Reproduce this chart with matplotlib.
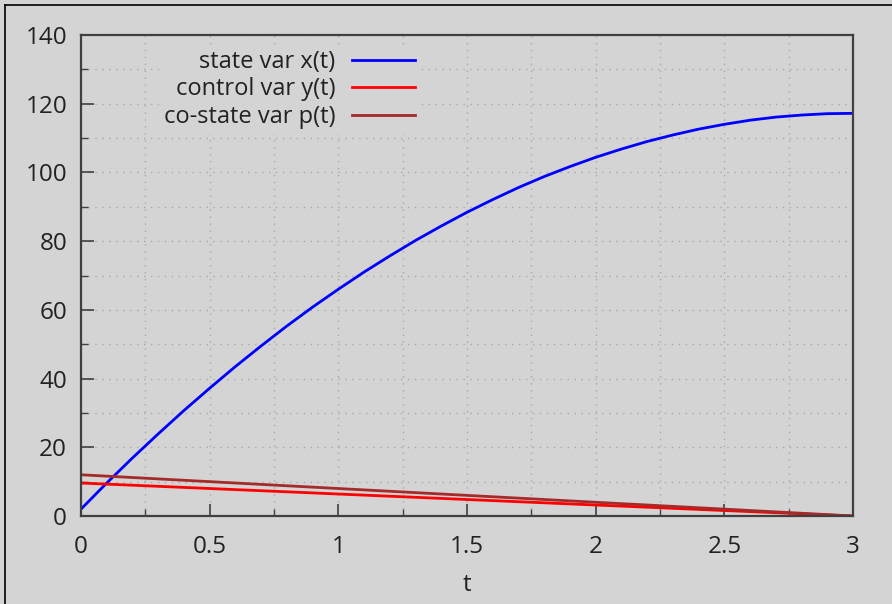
import matplotlib.pyplot as plt
from matplotlib.lines import Line2D
from matplotlib.ticker import MultipleLocator

# Data
t = [0.0, 0.1, 0.2, 0.3, 0.4, 0.5, 0.6, 0.7, 0.8, 0.9, 1.0,
     1.1, 1.2, 1.3, 1.4, 1.5, 1.6, 1.7, 1.8, 1.9, 2.0,
     2.1, 2.2, 2.3, 2.4, 2.5, 2.6, 2.7, 2.8, 2.9, 3.0]
x_state = [2.0, 9.6, 16.9, 23.9, 30.7, 37.2, 43.5, 49.5, 55.3, 60.8, 66.0,
           71.0, 75.7, 80.2, 84.4, 88.4, 92.1, 95.6, 98.8, 101.7, 104.4,
           106.8, 109.0, 110.9, 112.6, 114.0, 115.2, 116.1, 116.7, 117.1, 117.2]
t_lin = [0.0, 1.0, 2.0, 3.0]
y_control = [9.6, 6.4, 3.2, 0.0]
p_costate = [12.0, 8.0, 4.0, 0.0]

labels = ['state var x(t)', 'control var y(t)', 'co-state var p(t)']
colors = ['#0000ff', '#ff0000', '#a52a2a']

bg = '#d4d4d4'
plt.rcParams['font.family'] = ['Open Sans', 'DejaVu Sans']

fig = plt.figure(figsize=(8.92, 6.04), dpi=100, facecolor=bg)
ax = fig.add_axes([81 / 892, 88 / 604, 772 / 892, 481 / 604])
ax.set_facecolor(bg)

ax.plot(t, x_state, color=colors[0], lw=2.0, label=labels[0])
ax.plot(t_lin, y_control, color=colors[1], lw=2.0, label=labels[1])
ax.plot(t_lin, p_costate, color=colors[2], lw=2.0, label=labels[2])

ax.set_xlim(0, 3)
ax.set_ylim(0, 140)
ax.xaxis.set_major_locator(MultipleLocator(0.5))
ax.xaxis.set_minor_locator(MultipleLocator(0.25))
ax.yaxis.set_major_locator(MultipleLocator(20))
ax.yaxis.set_minor_locator(MultipleLocator(10))
ax.xaxis.set_major_formatter(plt.FuncFormatter(lambda v, _: f'{v:g}'))

ax.grid(True, which='both', linestyle=(0, (1, 4)), color='#a8a8a8', lw=1.0)
ax.set_axisbelow(True)

ax.tick_params(which='both', direction='in', top=False, right=False,
               colors='#404040', labelcolor='#222222', labelsize=17.5)
ax.tick_params(which='major', length=9, width=1.2)
ax.tick_params(which='minor', length=5, width=1.0)
ax.tick_params(axis='x', which='major', pad=14)
ax.tick_params(axis='y', which='major', pad=10)
for s in ax.spines.values():
    s.set_color('#404040')
    s.set_linewidth(1.6)

ax.set_xlabel('t', fontsize=17.5, color='#222222', labelpad=10)

leg = ax.legend(loc='upper right', bbox_to_anchor=(0.439, 0.979),
                markerfirst=False, frameon=True, facecolor=bg, edgecolor='none',
                framealpha=1.0, fancybox=False, fontsize=17, handlelength=2.67,
                handletextpad=0.72, labelspacing=0.15, borderpad=0.2,
                borderaxespad=0.0)
for txt in leg.get_texts():
    txt.set_color('#222222')

# outer frame lines on left and top of the picture
fig.add_artist(Line2D([5 / 892, 5 / 892], [0, 1 - 5 / 604], color='black', lw=1.2))
fig.add_artist(Line2D([5 / 892, 1], [1 - 5 / 604, 1 - 5 / 604], color='black', lw=1.2))

fig.savefig('out.png', dpi=100, facecolor=bg)
